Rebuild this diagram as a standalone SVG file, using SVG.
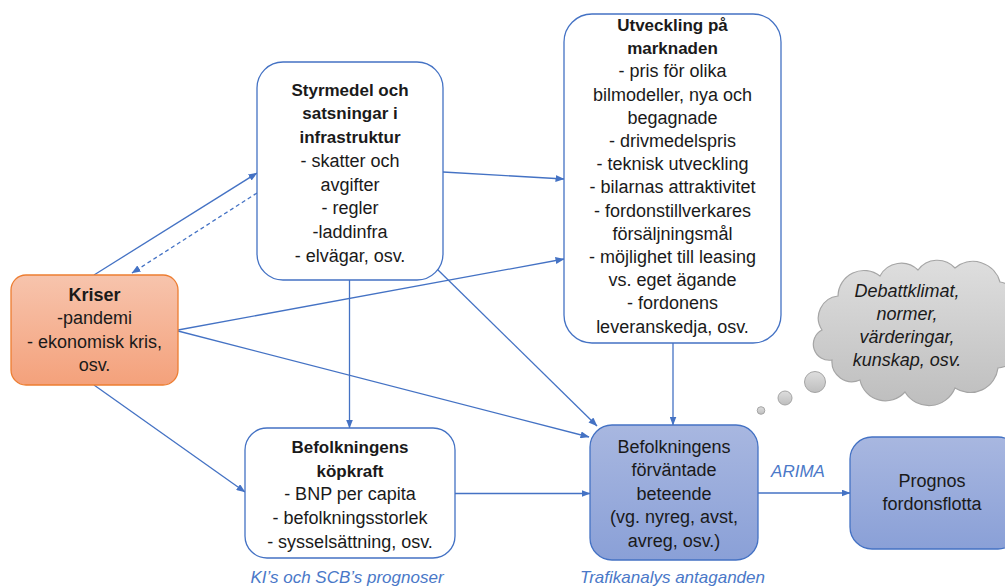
<svg xmlns="http://www.w3.org/2000/svg" width="1005" height="588" viewBox="0 0 1005 588">
<style>
text{font-family:"Liberation Sans",Arial,sans-serif;font-size:18px;fill:#1a1a1a;text-anchor:middle}
.b{font-weight:bold;font-size:17px}
.lbl{font-style:italic;fill:#4a78c8;font-size:17px}
.it{font-style:italic}
.box{fill:#fff;stroke:#4472c4;stroke-width:1.3}
.blue{fill:url(#gb);stroke:#4472c4;stroke-width:1.3}
.con{fill:none;stroke:#4472c4;stroke-width:1.3;marker-end:url(#ah)}
</style>
<defs>
<marker id="ah" markerUnits="userSpaceOnUse" markerWidth="9" markerHeight="7" refX="8.5" refY="3.5" orient="auto"><path d="M0,0 L9,3.5 L0,7 z" fill="#4472c4"/></marker>
<linearGradient id="go" x1="0" y1="0" x2="0" y2="1"><stop offset="0" stop-color="#f7c4ad"/><stop offset="1" stop-color="#f4a17b"/></linearGradient>
<linearGradient id="gb" x1="0" y1="0" x2="0" y2="1"><stop offset="0" stop-color="#a8b7e0"/><stop offset="1" stop-color="#8aa0d7"/></linearGradient>
<linearGradient id="gg" x1="0" y1="0" x2="0" y2="1"><stop offset="0" stop-color="#dedede"/><stop offset="1" stop-color="#bebebe"/></linearGradient>
</defs>

<g id="connectors">
<line class="con" x1="94" y1="275" x2="257" y2="173"/>
<line class="con" x1="257" y1="193" x2="132" y2="273" stroke-dasharray="4,3"/>
<line class="con" x1="443" y1="172" x2="564" y2="179"/>
<line class="con" x1="178" y1="330" x2="564" y2="259"/>
<line class="con" x1="178" y1="331" x2="589" y2="437"/>
<line class="con" x1="436" y1="268" x2="597" y2="426"/>
<line class="con" x1="349.5" y1="280" x2="349.5" y2="428"/>
<line class="con" x1="94" y1="385" x2="245" y2="492"/>
<line class="con" x1="455" y1="493.5" x2="590" y2="493.5"/>
<line class="con" x1="673" y1="343" x2="673" y2="425"/>
<line class="con" x1="758" y1="493" x2="850" y2="493"/>
</g>

<g id="kriser">
<rect x="11" y="275" width="167" height="110" rx="15" fill="url(#go)" stroke="#ed7d31" stroke-width="1.3"/>
<text class="b" x="94.5" y="300.7" style="font-size:18px">Kriser</text>
<text x="94.5" y="324">-pandemi</text>
<text x="94.5" y="347.5">- ekonomisk kris,</text>
<text x="94.5" y="371">osv.</text>
</g>

<g id="styrmedel">
<rect class="box" x="257" y="62" width="186" height="218" rx="26"/>
<text class="b" x="350" y="95.7">Styrmedel och</text>
<text class="b" x="350" y="119.4">satsningar i</text>
<text class="b" x="350" y="143.1">infrastruktur</text>
<text x="350" y="166.8">- skatter och</text>
<text x="350" y="190.5">avgifter</text>
<text x="350" y="214.2">- regler</text>
<text x="350" y="237.9">-laddinfra</text>
<text x="350" y="261.6">- elvägar, osv.</text>
</g>

<g id="utveckling">
<rect class="box" x="564" y="14" width="217" height="329" rx="28"/>
<text class="b" x="672.5" y="31">Utveckling på</text>
<text class="b" x="672.5" y="54.2">marknaden</text>
<text x="672.5" y="77.4">- pris för olika</text>
<text x="672.5" y="100.6">bilmodeller, nya och</text>
<text x="672.5" y="123.8">begagnade</text>
<text x="672.5" y="147">- drivmedelspris</text>
<text x="672.5" y="170.2">- teknisk utveckling</text>
<text x="672.5" y="193.4">- bilarnas attraktivitet</text>
<text x="672.5" y="216.6">- fordonstillverkares</text>
<text x="672.5" y="239.8">försäljningsmål</text>
<text x="672.5" y="263">- möjlighet till leasing</text>
<text x="672.5" y="286.2">vs. eget ägande</text>
<text x="672.5" y="309.4">- fordonens</text>
<text x="672.5" y="332.6">leveranskedja, osv.</text>
</g>

<g id="kopkraft">
<rect class="box" x="245" y="428" width="210" height="130" rx="22"/>
<text class="b" x="350" y="453">Befolkningens</text>
<text class="b" x="350" y="476.7">köpkraft</text>
<text x="350" y="500.4">- BNP per capita</text>
<text x="350" y="524.1">- befolkningsstorlek</text>
<text x="350" y="547.8">- sysselsättning, osv.</text>
<text class="lbl" x="347" y="583">KI’s och SCB’s prognoser</text>
</g>

<g id="beteende">
<rect class="blue" x="590" y="425" width="168" height="135" rx="22"/>
<text x="674" y="452.7">Befolkningens</text>
<text x="674" y="476">förväntade</text>
<text x="674" y="499.5">beteende</text>
<text x="674" y="523">(vg. nyreg, avst,</text>
<text x="674" y="546.5">avreg, osv.)</text>
<text class="lbl" x="672.5" y="583">Trafikanalys antaganden</text>
</g>

<g id="arima">
<text class="lbl" x="798" y="477">ARIMA</text>
</g>

<g id="prognos">
<rect class="blue" x="850" y="437" width="170" height="112" rx="22"/>
<text x="932" y="487">Prognos</text>
<text x="932" y="510">fordonsflotta</text>
</g>

<g id="cloud">
<path d="M 822 330 A 22 22 0 0 1 838 296 A 26 26 0 0 1 880 276 A 24 24 0 0 1 918 270 A 24 24 0 0 1 955 268 A 28 28 0 0 1 1000 282 A 26 26 0 0 1 1015 325 A 26 26 0 0 1 998 368 A 28 28 0 0 1 955 388 A 28 28 0 0 1 905 392 A 26 26 0 0 1 860 380 A 20 20 0 0 1 832 360 A 16 16 0 0 1 822 330 Z" fill="url(#gg)" stroke="#a5a5a5" stroke-width="1.2"/>
<circle cx="815" cy="382" r="10.5" fill="url(#gg)" stroke="#a5a5a5" stroke-width="1"/>
<circle cx="785" cy="398" r="7" fill="url(#gg)" stroke="#a5a5a5" stroke-width="1"/>
<circle cx="761" cy="410.5" r="3.8" fill="url(#gg)" stroke="#a5a5a5" stroke-width="1"/>
<text class="it" x="907" y="297">Debattklimat,</text>
<text class="it" x="907" y="320">normer,</text>
<text class="it" x="907" y="343">värderingar,</text>
<text class="it" x="907" y="366">kunskap, osv.</text>
</g>
</svg>
